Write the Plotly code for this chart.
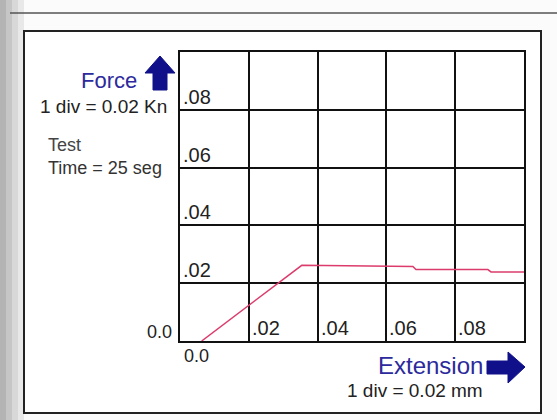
import plotly.graph_objects as go

# Data
extension_mm = [0.0063, 0.0354, 0.0677, 0.0686, 0.0895, 0.0904, 0.1000]
force_kn = [0.0, 0.0262, 0.0258, 0.0247, 0.0247, 0.0239, 0.0239]
y_tick_labels = [".02", ".04", ".06", ".08"]
y_tick_values = [0.02, 0.04, 0.06, 0.08]
x_tick_labels = [".02", ".04", ".06", ".08"]
x_tick_values = [0.02, 0.04, 0.06, 0.08]

W, H = 557, 420
L, R, T, B = 180, 524, 52, 341  # plot area in pixels


def px(x):
    return (x - L) / (R - L)


def py(y):
    return (B - y) / (B - T)


BLUE = "#2c2a9c"
NAVY = "#10108a"
FONT = "Liberation Sans, Arial, sans-serif"

fig = go.Figure()
fig.add_trace(go.Scatter(
    x=extension_mm, y=force_kn, mode="lines",
    line=dict(color="#dc3c6c", width=1.5), hoverinfo="skip", showlegend=False,
))

shapes = []
# left scan shadow (gray fading strip)
strip = [(0, 6, "#b4b4b4"), (6, 12, "#c6c6c6"), (12, 18, "#d8d8d8"), (18, 24, "#e8e8e8")]
for x0, x1, c in strip:
    shapes.append(dict(type="rect", xref="paper", yref="paper", x0=px(x0), x1=px(x1),
                       y0=py(H), y1=py(0), line=dict(width=0), fillcolor=c, layer="below"))
# top faint line
shapes.append(dict(type="line", xref="paper", yref="paper", x0=px(10), x1=px(W), y0=py(13), y1=py(13),
                   line=dict(color="#555555", width=1.5)))
# outer box
shapes.append(dict(type="rect", xref="paper", yref="paper", x0=px(24), x1=px(541), y0=py(413), y1=py(31),
                   line=dict(color="#222222", width=2), fillcolor="white", layer="below"))
# up arrow
up = (f"M {px(153)} {py(90)} L {px(167)} {py(90)} L {px(167)} {py(73)} L {px(175)} {py(73)} "
      f"L {px(160)} {py(56)} L {px(145)} {py(73)} L {px(153)} {py(73)} Z")
shapes.append(dict(type="path", xref="paper", yref="paper", path=up, fillcolor=NAVY, line=dict(color=NAVY, width=1)))
# right arrow
right = (f"M {px(487)} {py(361)} L {px(508)} {py(361)} L {px(508)} {py(352)} L {px(525)} {py(367)} "
         f"L {px(508)} {py(383)} L {px(508)} {py(374)} L {px(487)} {py(374)} Z")
shapes.append(dict(type="path", xref="paper", yref="paper", path=right, fillcolor=NAVY, line=dict(color=NAVY, width=1)))

ann = []
TICKF = dict(family=FONT, size=20, color="#222222")
for v, t in zip(y_tick_values, y_tick_labels):
    ann.append(dict(x=0, y=v, xref="x", yref="y", text=t, showarrow=False, xanchor="left", yanchor="bottom",
                    xshift=1, yshift=0, font=TICKF))
for v, t in zip(x_tick_values, x_tick_labels):
    ann.append(dict(x=v, y=0, xref="x", yref="y", text=t, showarrow=False, xanchor="left", yanchor="bottom",
                    xshift=1, yshift=0, font=TICKF))
SMALL = dict(family=FONT, size=18, color="#222222")
ann.append(dict(x=0, y=0, xref="x", yref="y", text="0.0", showarrow=False, xanchor="right", yanchor="middle",
                xshift=-6, yshift=9, font=SMALL))
ann.append(dict(x=0, y=0, xref="x", yref="y", text="0.0", showarrow=False, xanchor="left", yanchor="top",
                xshift=2, yshift=-3, font=SMALL))
ann.append(dict(x=px(139), y=py(80), xref="paper", yref="paper", text="Force", showarrow=False,
                xanchor="right", yanchor="middle", font=dict(family=FONT, size=22, color=BLUE)))
ann.append(dict(x=px(169), y=py(106), xref="paper", yref="paper", text="1 div = 0.02 Kn", showarrow=False,
                xanchor="right", yanchor="middle", font=dict(family=FONT, size=19, color="#222222")))
ann.append(dict(x=px(46), y=py(145), xref="paper", yref="paper", text="Test", showarrow=False,
                xanchor="left", yanchor="middle", font=dict(family=FONT, size=18, color="#444444")))
ann.append(dict(x=px(46), y=py(168), xref="paper", yref="paper", text="Time = 25 seg", showarrow=False,
                xanchor="left", yanchor="middle", font=dict(family=FONT, size=18, color="#333333")))
ann.append(dict(x=px(485), y=py(365), xref="paper", yref="paper", text="Extension", showarrow=False,
                xanchor="right", yanchor="middle", font=dict(family=FONT, size=24, color=BLUE)))
ann.append(dict(x=px(485), y=py(390), xref="paper", yref="paper", text="1 div = 0.02 mm", showarrow=False,
                xanchor="right", yanchor="middle", font=dict(family=FONT, size=19, color="#222222")))

axis_common = dict(range=[0, 0.1], dtick=0.02, tick0=0, showgrid=True, gridcolor="#111111", gridwidth=2,
                   showline=True, linecolor="#111111", linewidth=2, mirror=True, showticklabels=False,
                   ticks="", zeroline=False, fixedrange=True)

fig.update_layout(
    width=W, height=H,
    margin=dict(l=L, r=W - R, t=T, b=H - B),
    paper_bgcolor="#fbfbfb", plot_bgcolor="white",
    xaxis=axis_common, yaxis=axis_common,
    shapes=shapes, annotations=ann, showlegend=False,
)

fig.write_html(
    "out.html",
    config={"displayModeBar": False},
    post_script="document.body.style.margin='0';document.body.style.overflow='hidden';",
)
